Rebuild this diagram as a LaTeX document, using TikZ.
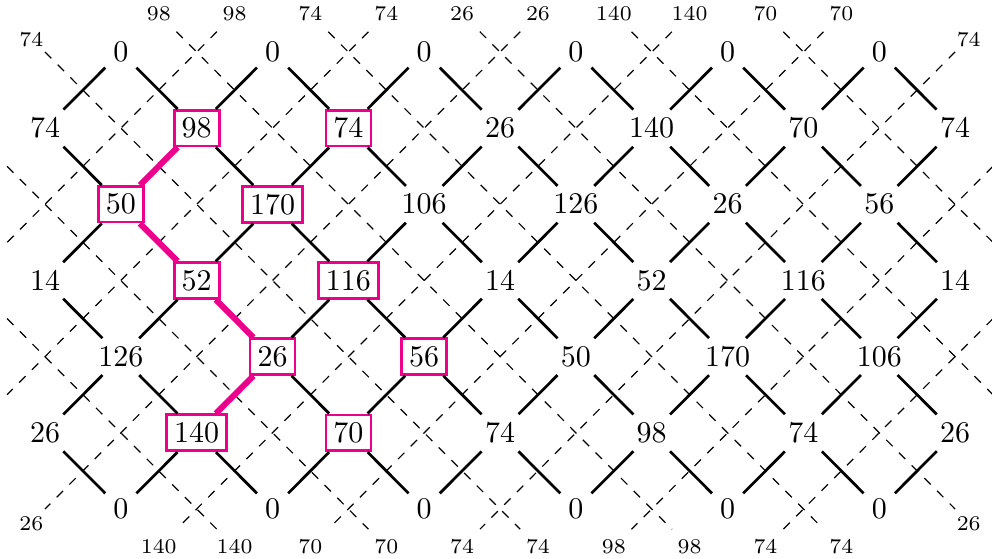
\documentclass[tikz,border=0pt]{standalone}
\definecolor{mag}{RGB}{236,0,140}
\begin{document}
\begin{tikzpicture}[x=25.28pt,y=-25.39pt,
  num/.style={inner sep=2.5pt},
  boxed/.style={num,draw=mag,line width=0.9pt},
  lab/.style={font=\scriptsize},
  edge/.style={line width=0.9pt},
  hil/.style={draw=mag,line width=2pt},
  dline/.style={dashed,line width=0.4pt}]
\path[use as bounding box,fill=white] (-15pt,-169pt) rectangle (315.67pt,17.33pt);
% number nodes
\foreach \x in {1,3,...,11}{
  \node[num] (n\x-0) at (\x,0) {0};
  \node[num] (n\x-6) at (\x,6) {0};
}
\foreach \x/\v in {0/74,6/26,8/140,10/70,12/74} \node[num] (n\x-1) at (\x,1) {\v};
\foreach \x/\v in {2/98,4/74} \node[boxed] (n\x-1) at (\x,1) {\v};
\foreach \x/\v in {5/106,7/126,9/26,11/56} \node[num] (n\x-2) at (\x,2) {\v};
\foreach \x/\v in {1/50,3/170} \node[boxed] (n\x-2) at (\x,2) {\v};
\foreach \x/\v in {0/14,6/14,8/52,10/116,12/14} \node[num] (n\x-3) at (\x,3) {\v};
\foreach \x/\v in {2/52,4/116} \node[boxed] (n\x-3) at (\x,3) {\v};
\foreach \x/\v in {1/126,7/50,9/170,11/106} \node[num] (n\x-4) at (\x,4) {\v};
\foreach \x/\v in {3/26,5/56} \node[boxed] (n\x-4) at (\x,4) {\v};
\foreach \x/\v in {0/26,6/74,8/98,10/74,12/26} \node[num] (n\x-5) at (\x,5) {\v};
\foreach \x/\v in {2/140,4/70} \node[boxed] (n\x-5) at (\x,5) {\v};
% border labels
\foreach \i/\v in {1/98,2/98,3/74,4/74,5/26,6/26,7/140,8/140,9/70,10/70}
  \node[lab] (t\i) at (\i+0.5,-0.5) {\v};
\foreach \i/\v in {1/140,2/140,3/70,4/70,5/74,6/74,7/98,8/98,9/74,10/74}
  \node[lab] (b\i) at (\i+0.5,6.5) {\v};
\node[lab] (cTL) at (-0.18,-0.16) {74};
\node[lab] (cTR) at (12.18,-0.16) {74};
\node[lab] (cBL) at (-0.18,6.2) {26};
\node[lab] (cBR) at (12.18,6.2) {26};
\coordinate (pTL) at (0,0);
\coordinate (pTR) at (12,0);
\coordinate (pBL) at (0,6);
\coordinate (pBR) at (12,6);
\coordinate (L1) at (-0.5,1.5);
\coordinate (L2) at (-0.5,2.5);
\coordinate (L3) at (-0.5,3.5);
\coordinate (L4) at (-0.5,4.5);
\coordinate (R1) at (12.5,1.5);
\coordinate (R2) at (12.5,2.5);
\coordinate (R3) at (12.5,3.5);
\coordinate (R4) at (12.5,4.5);
% dashed lines
\draw[dline] (L3) -- (b2);
\draw[dline] (L1) -- (b4);
\draw[dline] (pTL) -- (b6);
\draw[dline] (t1) -- (b8);
\draw[dline] (t3) -- (b10);
\draw[dline] (t5) -- (pBR);
\draw[dline] (t7) -- (R4);
\draw[dline] (t9) -- (R2);
\draw[dline] (t2) -- (L2);
\draw[dline] (t4) -- (L4);
\draw[dline] (t6) -- (pBL);
\draw[dline] (t8) -- (b1);
\draw[dline] (t10) -- (b3);
\draw[dline] (pTR) -- (b5);
\draw[dline] (R1) -- (b7);
\draw[dline] (R3) -- (b9);
% solid edges
\foreach \r in {0,...,5}{\foreach \x in {0,...,12}{
  \pgfmathtruncatemacro\s{mod(\x+\r,2)}
  \ifnum\s=1
    \pgfmathtruncatemacro\xa{\x-1}
    \pgfmathtruncatemacro\xb{\x+1}
    \pgfmathtruncatemacro\rb{\r+1}
    \pgfmathtruncatemacro\kr{(\x<12)&&!((\x==1&&\r==2)||(\x==2&&\r==3))}
    \pgfmathtruncatemacro\kl{(\x>0)&&!((\x==2&&\r==1)||(\x==3&&\r==4))}
    \ifnum\kr=1 \draw[edge] (n\x-\r) -- (n\xb-\rb); \fi
    \ifnum\kl=1 \draw[edge] (n\x-\r) -- (n\xa-\rb); \fi
  \fi
}}
% highlighted path
\draw[hil] (n2-1) -- (n1-2);
\draw[hil] (n1-2) -- (n2-3);
\draw[hil] (n2-3) -- (n3-4);
\draw[hil] (n3-4) -- (n2-5);
\end{tikzpicture}
\end{document}
